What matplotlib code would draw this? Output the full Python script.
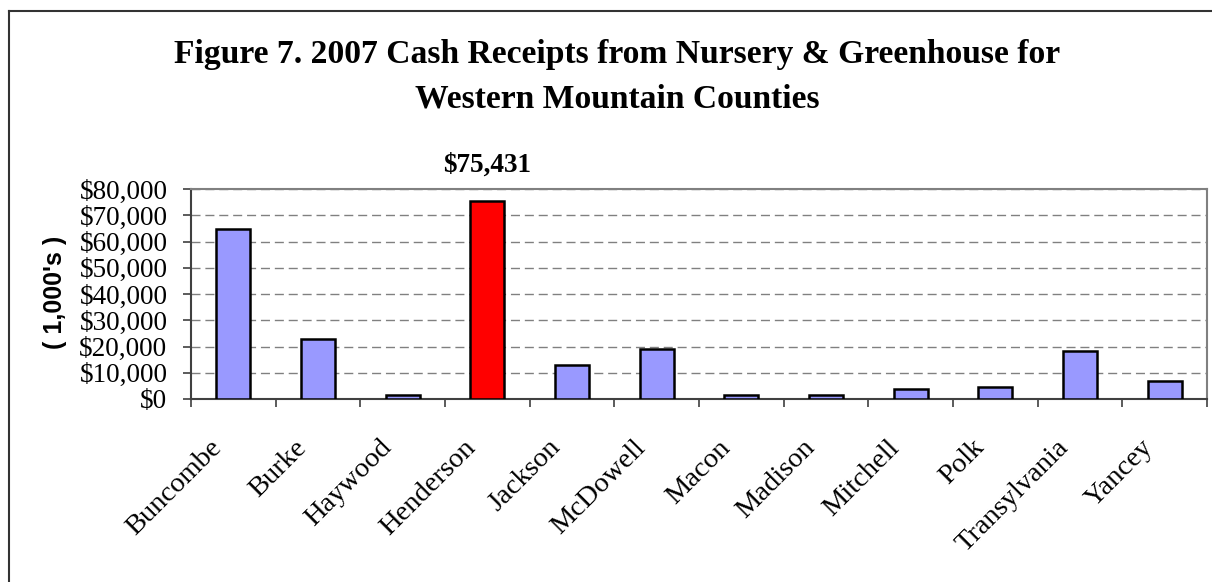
import matplotlib
matplotlib.use('Agg')
from matplotlib import pyplot as plt
from matplotlib.lines import Line2D
from matplotlib.ticker import FuncFormatter, MultipleLocator
from matplotlib.transforms import ScaledTranslation
import numpy as np

counties = ['Buncombe', 'Burke', 'Haywood', 'Henderson', 'Jackson', 'McDowell',
            'Macon', 'Madison', 'Mitchell', 'Polk', 'Transylvania', 'Yancey']
receipts = [64700, 22800, 1400, 75431, 13000, 19200,
            1400, 1400, 3800, 4600, 18300, 6900]
highlight = 'Henderson'

blue = '#9999FF'
red = '#FF0000'
serif = ['Liberation Serif', 'DejaVu Serif']

W, H = 1212, 582
fig = plt.figure(figsize=(W/100, H/100), dpi=100)
ax = fig.add_axes([191/W, 1 - 399/H, (1207-191)/W, (399-189)/H])

x = np.arange(len(counties))
colors = [red if c == highlight else blue for c in counties]
ax.bar(x, receipts, width=0.4, color=colors, edgecolor='black', linewidth=1.8, zorder=3)

ax.set_xlim(-0.5, len(counties) - 0.5)
ax.set_ylim(0, 80000)
ax.yaxis.set_major_locator(MultipleLocator(10000))
ax.yaxis.set_major_formatter(FuncFormatter(lambda v, p: f'${int(v):,}'))
ax.grid(axis='y', color='#808080', linestyle=(0, (6.5, 3.5)), linewidth=1.0, zorder=1)

# ticks sit between categories, labels under each bar
ax.set_xticks(np.arange(len(counties) + 1) - 0.5)
ax.set_xticklabels([])
ax.set_xticks(x, minor=True)
ax.set_xticklabels(counties, minor=True, rotation=45, ha='right',
                   rotation_mode='anchor', family=serif, fontsize=20.5)
ax.tick_params(axis='x', which='minor', length=0, pad=26)
ax.tick_params(axis='x', which='major', length=6, width=1.2, color='#404040', direction='out')
ax.tick_params(axis='y', length=6, width=1.2, color='#404040', direction='out', pad=11)
shift = ScaledTranslation(-24/100, 0, fig.dpi_scale_trans)
for lab in ax.get_xticklabels(minor=True):
    lab.set_transform(lab.get_transform() + shift)
for lab in ax.get_yticklabels():
    lab.set_family(serif)
    lab.set_fontsize(19.5)

ax.spines['left'].set_color('#404040')
ax.spines['bottom'].set_color('#404040')
ax.spines['top'].set_color('#808080')
ax.spines['right'].set_color('#808080')
for s in ax.spines.values():
    s.set_linewidth(1.5)

ax.set_ylabel("( 1,000's )", family=['Liberation Sans', 'DejaVu Sans'],
              fontweight='bold', fontsize=18)
ax.yaxis.set_label_coords(-0.134, 0.507)
ax.yaxis.label.set_va('center')

hi = counties.index(highlight)
ax.annotate(f'${receipts[hi]:,}', xy=(hi, receipts[hi]), xytext=(0, 21),
            textcoords='offset points', ha='center', va='baseline',
            family=serif, fontweight='bold', fontsize=19.5, annotation_clip=False)

fig.text(617/W, 1 - 63/H, 'Figure 7. 2007 Cash Receipts from Nursery & Greenhouse for',
         ha='center', va='baseline', family=serif, fontweight='bold', fontsize=24.2)
fig.text(617/W, 1 - 107/H, 'Western Mountain Counties',
         ha='center', va='baseline', family=serif, fontweight='bold', fontsize=24.2)

# outer chart frame (only top and left edges are visible in the crop)
fig.add_artist(Line2D([8.5/W, 8.5/W], [0, 1 - 11/H], transform=fig.transFigure,
                      color='#333333', linewidth=1.5))
fig.add_artist(Line2D([8.5/W, 1], [1 - 11/H, 1 - 11/H], transform=fig.transFigure,
                      color='#333333', linewidth=1.5))

fig.savefig('out.png', dpi=100)
